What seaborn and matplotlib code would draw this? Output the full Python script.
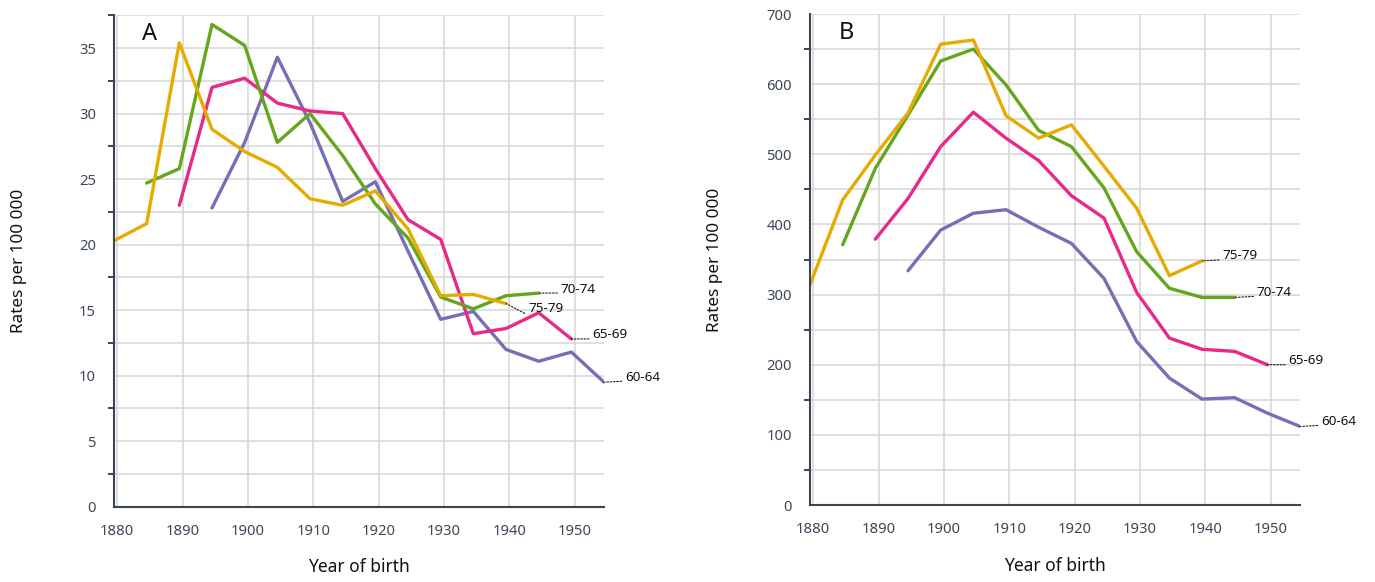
import matplotlib
matplotlib.use('Agg')
import matplotlib.pyplot as plt
import seaborn as sns
import pandas as pd
from matplotlib.ticker import MultipleLocator

# ─── Data ────────────────────────────────────────────────────────────────────
# birth cohorts are plotted at their mid-point, just left of the round year
YEARS = [1879.5, 1884.5, 1889.5, 1894.5, 1899.5, 1904.5, 1909.5, 1914.5,
         1919.5, 1924.5, 1929.5, 1934.5, 1939.5, 1944.5, 1949.5, 1954.5]
AGES = ['60-64', '65-69', '70-74', '75-79']

# panel A
A_60_64 = [None, None, None, 22.8, 27.8, 34.3, 29.3, 23.3,
           24.8, 19.5, 14.3, 14.9, 12.0, 11.1, 11.8, 9.5]
A_65_69 = [None, None, 23.0, 32.0, 32.7, 30.8, 30.2, 30.0,
           25.8, 21.9, 20.4, 13.2, 13.6, 14.8, 12.8, None]
A_70_74 = [None, 24.7, 25.8, 36.8, 35.2, 27.8, 30.0, 26.8,
           23.1, 20.5, 16.0, 15.1, 16.1, 16.3, None, None]
A_75_79 = [20.3, 21.6, 35.4, 28.8, 27.1, 25.9, 23.5, 23.0,
           24.1, 21.2, 16.1, 16.2, 15.5, None, None, None]

# panel B
B_60_64 = [None, None, None, 334, 392, 416, 421, 396,
           373, 323, 233, 181, 151, 153, 131, 112]
B_65_69 = [None, None, 379, 437, 511, 560, 523, 491,
           441, 409, 303, 238, 222, 219, 200, None]
B_70_74 = [None, 371, 480, 556, 633, 650, 599, 534,
           511, 452, 361, 309, 296, 296, None, None]
B_75_79 = [314, 435, 499, 559, 657, 663, 555, 523,
           542, 483, 423, 327, 348, None, None, None]

# ─── Styling ─────────────────────────────────────────────────────────────────
COLORS = {'60-64': '#7570B3', '65-69': '#E7298A',
          '70-74': '#66A61E', '75-79': '#E6AB02'}
SPINE = '#3a4556'
GRID = '#d6d6d6'
TICK_TXT = '#3d4858'

# end-label offsets in pixels (dx, dy) and where the leader meets the text
A_LABELS = {'60-64': (21, 5, 0.2), '65-69': (21, 4, 0.2),
            '70-74': (22, 4, 0.2), '75-79': (22, -5, 0.0)}
B_LABELS = {'60-64': (21, 5, 0.2), '65-69': (21, 4, 0.2),
            '70-74': (22, 5, 0.2), '75-79': (20, 5, 0.2)}


def long_df(series):
    rows = []
    for age, vals in zip(AGES, series):
        for yr, v in zip(YEARS, vals):
            if v is not None:
                rows.append({'year': yr, 'rate': v, 'age': age})
    return pd.DataFrame(rows)


def draw_panel(ax, series, ymax, ymajor, letter, offsets):
    df = long_df(series)
    sns.lineplot(data=df, x='year', y='rate', hue='age', hue_order=AGES,
                 palette=COLORS, lw=2.4, estimator=None, legend=False,
                 ax=ax)

    ax.set_xlim(YEARS[0], YEARS[-1])
    ax.set_ylim(0, ymax)
    ax.xaxis.set_major_locator(MultipleLocator(10))
    ax.yaxis.set_major_locator(MultipleLocator(ymajor))
    ax.yaxis.set_minor_locator(MultipleLocator(ymajor / 2))

    ax.grid(which='both', axis='y', color=GRID, lw=1.1)
    ax.grid(which='major', axis='x', color=GRID, lw=1.1)
    ax.set_axisbelow(True)

    for side in ['top', 'right']:
        ax.spines[side].set_visible(False)
    for side in ['left', 'bottom']:
        ax.spines[side].set_color(SPINE)
        ax.spines[side].set_linewidth(1.5)

    ax.tick_params(which='major', direction='out', length=8, width=1.4,
                   color=SPINE, labelsize=10.7, labelcolor=TICK_TXT)
    ax.tick_params(axis='x', which='major', length=6.5, pad=6)
    ax.tick_params(axis='y', which='major', pad=5)
    ax.tick_params(axis='y', which='minor', direction='out', length=4.5,
                   width=1.4, color=SPINE, left=True)

    ax.set_xlabel('Year of birth', fontsize=12.5, color='#111111')
    ax.set_ylabel('Rates per 100 000', fontsize=12.3, color='#111111')
    ax.xaxis.set_label_coords(0.5, -0.105)
    ax.yaxis.set_label_coords(-0.178, 0.5)

    ax.text(0.058, 0.962, letter, transform=ax.transAxes, fontsize=17,
            ha='left', va='center', color='#111111')

    # age-group labels at the end of each line
    for age, vals in zip(AGES, series):
        last = max(i for i, v in enumerate(vals) if v is not None)
        dx, dy, ry = offsets[age]
        ax.annotate(age, xy=(YEARS[last], vals[last]), xytext=(dx, dy),
                    textcoords='offset pixels', ha='left', va='center',
                    fontsize=9.7, color='#111111', annotation_clip=False,
                    arrowprops=dict(arrowstyle='-', color='#222222', lw=0.8,
                                    ls=(0, (1.5, 1.5)), shrinkA=0, shrinkB=0,
                                    relpos=(0, ry)))


# ─── Main ────────────────────────────────────────────────────────────────────
if __name__ == "__main__":
    sns.set_theme(style='white')
    plt.rcParams['font.family'] = ['Noto Sans', 'DejaVu Sans']

    fig = plt.figure(figsize=(13.75, 5.82), dpi=100)
    ax_a = fig.add_axes([0.0829, 0.1294, 0.3564, 0.8443])
    ax_b = fig.add_axes([0.5891, 0.1323, 0.3564, 0.8436])

    draw_panel(ax_a, [A_60_64, A_65_69, A_70_74, A_75_79], 37.5, 5, 'A', A_LABELS)
    draw_panel(ax_b, [B_60_64, B_65_69, B_70_74, B_75_79], 700, 100, 'B', B_LABELS)

    fig.savefig('out.png', dpi=100, facecolor='white')
    plt.close(fig)
